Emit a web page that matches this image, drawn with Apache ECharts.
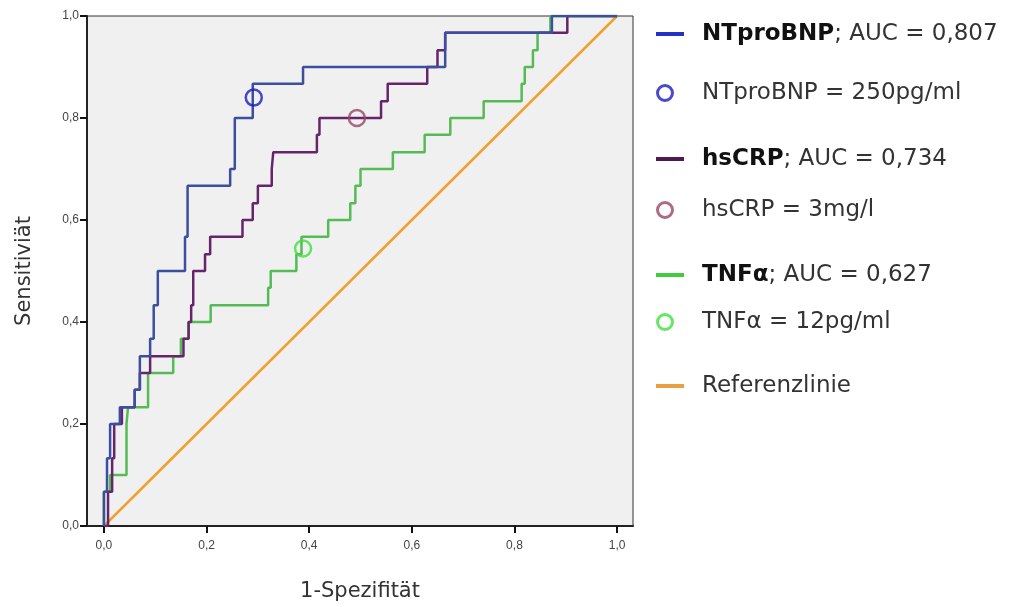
<!DOCTYPE html>
<html>
<head>
<meta charset="utf-8">
<script src="https://cdn.jsdelivr.net/npm/echarts@6/dist/echarts.min.js"></script>
<style>
html,body{margin:0;padding:0;background:#fff;}
#chart{width:1009px;height:607px;}
</style>
</head>
<body>
<div id="chart"></div>
<script>
// ROC points (1-Spezifität, Sensitivität)
var ntprobnp = [[0,0],[0,0.067],[0.006,0.133],[0.012,0.2],[0.031,0.233],[0.06,0.267],[0.07,0.333],[0.09,0.367],[0.097,0.433],[0.105,0.5],[0.158,0.567],[0.163,0.667],[0.246,0.7],[0.255,0.8],[0.29,0.867],[0.388,0.9],[0.665,0.967],[0.873,1],[1,1]];
var hscrp = [[0,0],[0.008,0.067],[0.016,0.133],[0.02,0.2],[0.035,0.233],[0.06,0.267],[0.07,0.3],[0.09,0.333],[0.155,0.367],[0.165,0.4],[0.17,0.433],[0.174,0.5],[0.197,0.533],[0.207,0.567],[0.27,0.6],[0.29,0.633],[0.30,0.667],[0.327,0.7],[0.33,0.733],[0.415,0.767],[0.42,0.8],[0.54,0.833],[0.553,0.867],[0.63,0.9],[0.65,0.933],[0.665,0.967],[0.903,1],[1,1]];
var tnfa = [[0,0],[0,0.067],[0.012,0.1],[0.044,0.2],[0.047,0.233],[0.086,0.3],[0.135,0.333],[0.15,0.367],[0.165,0.4],[0.208,0.433],[0.32,0.467],[0.325,0.5],[0.375,0.533],[0.385,0.567],[0.437,0.6],[0.48,0.633],[0.49,0.667],[0.5,0.7],[0.563,0.733],[0.625,0.767],[0.675,0.8],[0.74,0.833],[0.814,0.867],[0.82,0.9],[0.836,0.933],[0.845,0.967],[0.87,1],[1,1]];
var referenz = [[0,0],[1,1]];
var cutNtprobnp = [[0.292,0.84]];
var cutHscrp = [[0.493,0.80]];
var cutTnfa = [[0.388,0.544]];
var xTicks = [0,0.2,0.4,0.6,0.8,1.0];
var legendNames = ['NTproBNP; AUC = 0,807','NTproBNP = 250pg/ml','hsCRP; AUC = 0,734','hsCRP = 3mg/l','TNFα; AUC = 0,627','TNFα = 12pg/ml','Referenzlinie'];
var legendBold = ['NTproBNP','','hsCRP','','TNFα','',''];
var legendRest = ['; AUC = 0,807','NTproBNP = 250pg/ml','; AUC = 0,734','hsCRP = 3mg/l','; AUC = 0,627','TNFα = 12pg/ml','Referenzlinie'];

var C = {
  bLine:'#3b4f9e', bLeg:'#2233c4', bCirc:'#1c1cc0',
  pLine:'#66246a', pLeg:'#4f1a52', pCirc:'#9a4668',
  gLine:'#55bb55', gLeg:'#3fcc3f', gCirc:'#3ee03e',
  oLine:'#f0a030', oLeg:'#e8a040'
};
var fmt = function(v){ return v.toFixed(1).replace('.', ','); };
var legendTops = [29, 88, 154, 205, 270, 317, 381];
var isLine = [true,false,true,false,true,false,true];
var legColors = [C.bLeg, C.bCirc, C.pLeg, C.pCirc, C.gLeg, C.gCirc, C.oLeg];

var legends = legendNames.map(function(n,i){
  var item = {name:n};
  if (isLine[i]) { item.icon = 'rect'; item.itemStyle = {color: legColors[i], borderWidth:0}; }
  else { item.icon = 'circle'; item.itemStyle = {color:'rgba(0,0,0,0)', borderColor: legColors[i], borderWidth:3}; }
  return {
    data:[item], left:651, top: legendTops[i]-14, orient:'vertical', selectedMode:false,
    itemWidth: isLine[i] ? 28 : 18, itemHeight: isLine[i] ? 4 : 15,
    formatter: function(){
      var s = isLine[i] ? '{sp1| }' : '{sp2| }';
      if (legendBold[i]) s += '{b|' + legendBold[i] + '}';
      s += '{r|' + legendRest[i] + '}';
      return s;
    },
    textStyle:{
      fontFamily:'DejaVu Sans', fontSize:23, color:'#222', lineHeight:28,
      rich:{
        sp1:{width:13, fontSize:23},
        sp2:{width:23, fontSize:23},
        b:{fontFamily:'DejaVu Sans', fontWeight:'bold', fontSize:23, color:'#111'},
        r:{fontFamily:'DejaVu Sans', fontSize:23, color:'#333'}
      }
    }
  };
});

var chart = echarts.init(document.getElementById('chart'), null, {renderer:'canvas'});
chart.setOption({
  animation:false,
  backgroundColor:'#ffffff',
  grid:{left:87, right:376, top:16, bottom:81, show:true, backgroundColor:'#f0f0f0', borderColor:'#333', borderWidth:1},
  legend: legends,
  xAxis:{
    type:'value', min:-0.033, max:1.031,
    name:'1-Spezifität', nameLocation:'middle', nameGap:55,
    nameTextStyle:{fontFamily:'DejaVu Sans', fontSize:21, color:'#333'},
    axisLine:{show:true, onZero:false, lineStyle:{color:'#222', width:2}},
    axisTick:{show:true, customValues: xTicks, length:7, lineStyle:{color:'#111', width:2}},
    axisLabel:{customValues: xTicks, formatter: fmt, fontFamily:'Liberation Sans', fontSize:12, color:'#444', margin:14},
    splitLine:{show:false}
  },
  yAxis:{
    type:'value', min:0, max:1, interval:0.2,
    name:'Sensitiviät', nameLocation:'middle', nameGap:52, nameRotate:90,
    nameTextStyle:{fontFamily:'DejaVu Sans', fontSize:21, color:'#333'},
    axisLine:{show:true, onZero:false, lineStyle:{color:'#222', width:2}},
    axisTick:{show:true, length:7, lineStyle:{color:'#111', width:2}},
    axisLabel:{formatter: fmt, fontFamily:'Liberation Sans', fontSize:12, color:'#444', margin:8},
    splitLine:{show:false}
  },
  series:[
    {name:legendNames[6], type:'line', data:referenz, showSymbol:false, symbol:'none', lineStyle:{color:C.oLine, width:2.5}, itemStyle:{color:C.oLeg}, z:1},
    {name:legendNames[4], type:'line', step:'end', data:tnfa, showSymbol:false, symbol:'none', lineStyle:{color:C.gLine, width:2.5}, itemStyle:{color:C.gLeg}, z:2},
    {name:legendNames[2], type:'line', step:'end', data:hscrp, showSymbol:false, symbol:'none', lineStyle:{color:C.pLine, width:2.5}, itemStyle:{color:C.pLeg}, z:3},
    {name:legendNames[0], type:'line', step:'end', data:ntprobnp, showSymbol:false, symbol:'none', lineStyle:{color:C.bLine, width:2.5}, itemStyle:{color:C.bLeg}, z:4},
    {name:legendNames[1], type:'scatter', data:cutNtprobnp, symbol:'circle', symbolSize:16, itemStyle:{color:'rgba(0,0,0,0)', borderColor:C.bCirc, borderWidth:2.5}, z:5},
    {name:legendNames[3], type:'scatter', data:cutHscrp, symbol:'circle', symbolSize:16, itemStyle:{color:'rgba(0,0,0,0)', borderColor:C.pCirc, borderWidth:2.5}, z:5},
    {name:legendNames[5], type:'scatter', data:cutTnfa, symbol:'circle', symbolSize:16, itemStyle:{color:'rgba(0,0,0,0)', borderColor:C.gCirc, borderWidth:2.5}, z:5}
  ]
});
</script>
</body>
</html>
